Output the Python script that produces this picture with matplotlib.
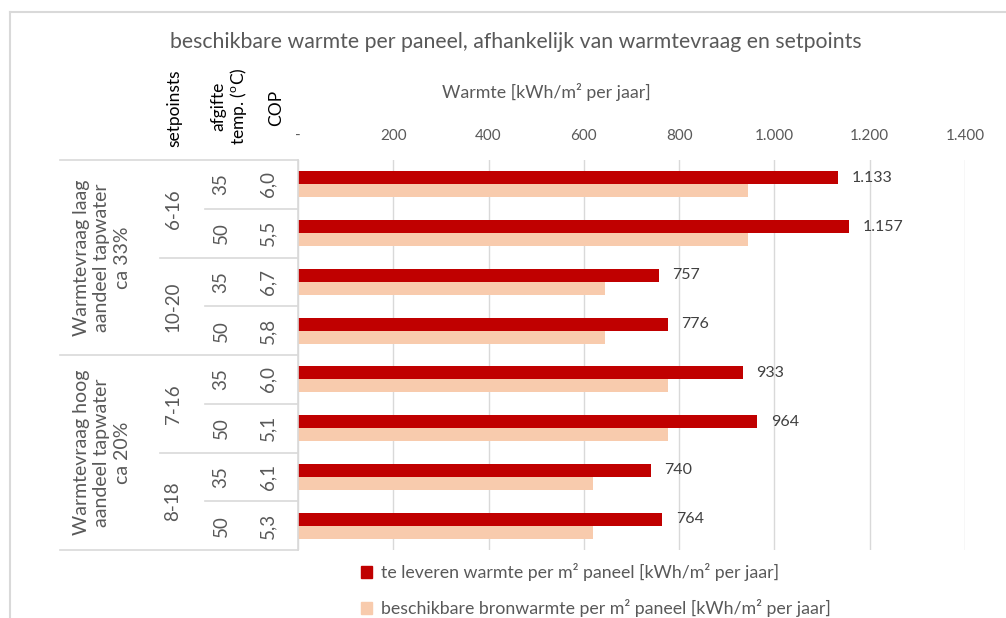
import matplotlib
matplotlib.use('Agg')
from matplotlib import pyplot as plt
from matplotlib.ticker import FuncFormatter
from matplotlib.patches import Patch
import numpy as np

# data
te_leveren = [1133, 1157, 757, 776, 933, 964, 740, 764]
bronwarmte = [945, 945, 644, 644, 776, 776, 619, 619]
temps = ['35', '50', '35', '50', '35', '50', '35', '50']
cops = ['6,0', '5,5', '6,7', '5,8', '6,0', '5,1', '6,1', '5,3']
setpoints = ['6-16', '10-20', '7-16', '8-18']
groepen = ['Warmtevraag laag\naandeel tapwater\nca 33%',
           'Warmtevraag hoog\naandeel tapwater\nca 20%']
xticks = [0, 200, 400, 600, 800, 1000, 1200, 1400]

RED = '#C00000'
LIGHT = '#F8CBAD'
GREY = '#595959'
LINE = '#D9D9D9'

plt.rcParams['font.family'] = ['Lato', 'DejaVu Sans']
plt.rcParams['mathtext.fontset'] = 'custom'
plt.rcParams['mathtext.rm'] = 'Lato'

W, H = 1006, 618
fig = plt.figure(figsize=(W / 100, H / 100), dpi=100)


def fx(px):
    return px / W


def fy(py):
    return 1 - py / H


# plot area in pixels: x 298..965, y 160..550
ax = fig.add_axes([fx(298), fy(550), fx(965) - fx(298), fy(160) - fy(550)])

y = np.arange(len(te_leveren))
h = 0.267
b1 = ax.barh(y - h / 2, te_leveren, height=h, color=RED, label='te leveren warmte per m² paneel [kWh/m² per jaar]')
b2 = ax.barh(y + h / 2, bronwarmte, height=h, color=LIGHT, label='beschikbare bronwarmte per m² paneel [kWh/m² per jaar]')


def fmt(v, pos=None):
    if v == 0:
        return '-'
    return '{:,.0f}'.format(v).replace(',', '.')


ax.bar_label(b1, labels=[fmt(v) for v in te_leveren], padding=10, color='#404040', fontsize=11.5)

ax.set_xlim(0, 1400)
ax.set_ylim(len(te_leveren) - 0.5, -0.5)
ax.set_xticks(xticks)
ax.xaxis.set_major_formatter(FuncFormatter(fmt))
ax.xaxis.tick_top()
ax.tick_params(axis='x', length=0, pad=12, labelsize=11, labelcolor=GREY)
ax.set_yticks([])
ax.grid(axis='x', color=LINE, lw=1)
ax.set_axisbelow(True)
for s in ['top', 'right', 'bottom']:
    ax.spines[s].set_visible(False)
ax.spines['left'].set_color(LINE)
ax.spines['left'].set_linewidth(1.2)

# table on the left (x in axes fraction, y in data)
tr = ax.get_yaxis_transform()


def ax_x(px):
    return (px - 298) / 667


kw = dict(transform=tr, clip_on=False, color=LINE, lw=1.2)
for b in np.arange(-0.5, len(te_leveren), 1):
    if b in (-0.5, 3.5, 7.5):
        x0 = 60
    elif b in (1.5, 5.5):
        x0 = 160
    else:
        x0 = 205
    ax.plot([ax_x(x0), 0], [b, b], **kw)

for i, (t, c) in enumerate(zip(temps, cops)):
    ax.text(ax_x(221), i, t, transform=tr, rotation=90, ha='center', va='center',
            fontsize=13.5, color=GREY)
    ax.text(ax_x(268), i, c, transform=tr, rotation=90, ha='center', va='center',
            fontsize=13.5, color=GREY)
for j, s in enumerate(setpoints):
    ax.text(ax_x(173), 2 * j + 0.5, s, transform=tr, rotation=90, ha='center', va='center',
            fontsize=13.5, color=GREY)
for g, lab in enumerate(groepen):
    ax.text(ax_x(102), 4 * g + 1.5, lab, transform=tr, rotation=90, ha='center', va='center',
            fontsize=14, color=GREY, multialignment='center', linespacing=1.25)

# column headers
fig.text(fx(174), fy(108), 'setpoinsts', rotation=90, ha='center', va='center', fontsize=12.5, color='black')
fig.text(fx(230), fy(106), 'afgifte\ntemp. ($^{\\mathrm{o}}$C)', rotation=90, ha='center', va='center',
         fontsize=12.5, color='black', multialignment='center', linespacing=1.1)
fig.text(fx(276), fy(108), 'COP', rotation=90, ha='center', va='center', fontsize=12.5, color='black')

# titles
fig.text(fx(516), fy(42), 'beschikbare warmte per paneel, afhankelijk van warmtevraag en setpoints',
         ha='center', va='center', fontsize=15.3, color=GREY)
fig.text(fx(546), fy(92), 'Warmte [kWh/m² per jaar]', ha='center', va='center', fontsize=12.8, color=GREY)

# legend
fig.legend(handles=[Patch(color=RED, label=b1.get_label()), Patch(color=LIGHT, label=b2.get_label())],
           loc='upper left', bbox_to_anchor=(fx(356), fy(558)), frameon=False, fontsize=12.8,
           labelcolor=GREY, handlelength=0.6, handleheight=0.65, handletextpad=0.5, labelspacing=1.0,
           borderaxespad=0, borderpad=0.3)

# chart border
fig.add_artist(plt.Line2D([fx(10), 1], [fy(12), fy(12)], color=LINE, lw=1.5))
fig.add_artist(plt.Line2D([fx(10), fx(10)], [fy(12), 0], color=LINE, lw=1.5))

plt.savefig('out.png', dpi=100)
